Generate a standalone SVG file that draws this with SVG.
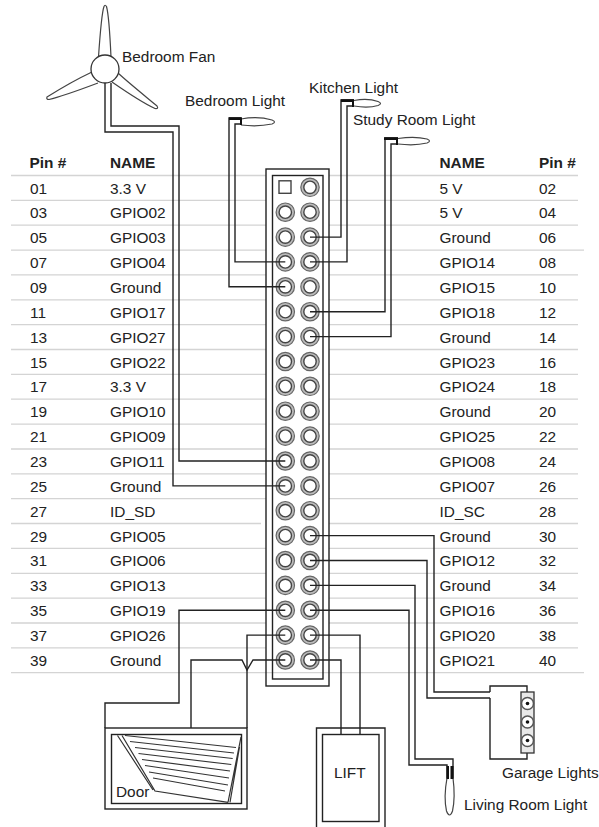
<svg xmlns="http://www.w3.org/2000/svg" xmlns:xlink="http://www.w3.org/1999/xlink" width="599" height="827" viewBox="0 0 599 827">
<style>
text{font-family:"Liberation Sans",Arial,sans-serif;font-size:15.4px;fill:#222}
.h{font-weight:bold}
.rule{fill:none;stroke:#d4d4d4;stroke-width:1.3}
.w{fill:none;stroke:#222;stroke-width:1.4}
.t{fill:#fff;stroke:#444;stroke-width:1.2}
.h2{fill:none;stroke:#333;stroke-width:1.2}
.k{fill:#111;stroke:none}
</style>
<defs>
<g id="pin">
<circle r="9.2" fill="#bbb" stroke="#666" stroke-width="1.2"/>
<circle r="6.2" fill="#fff" stroke="#444" stroke-width="1.4"/>
</g>
</defs>
<rect width="599" height="827" fill="#fff"/>
<g id="table-rules">
<path class="rule" d="M11 175.5H266M329 175.5H578M11 200.4H266M329 200.4H578M11 225.2H266M329 225.2H578M11 250.1H266M329 250.1H584M11 274.9H266M329 274.9H578M11 299.8H266M329 299.8H578M11 324.7H266M329 324.7H578M11 349.5H266M329 349.5H578M11 374.4H266M329 374.4H578M11 399.2H266M329 399.2H578M11 424.1H266M329 424.1H578M11 449H266M329 449H578M11 473.8H266M329 473.8H578M11 498.7H266M329 498.7H578M11 523.5H261M329 523.5H578M11 548.4H266M329 548.4H578M11 573.3H266M329 573.3H578M11 598.1H266M329 598.1H578M11 623H266M329 623H578M11 647.8H266M329 647.8H578M11 672.7H584"/>
</g>
<g id="table-left">
<text class="h" x="29.5" y="168.3">Pin #</text><text class="h" x="110" y="168.3">NAME</text>
<text x="30" y="193.5">01</text><text x="110" y="193.5">3.3 V</text>
<text x="30" y="218.4">03</text><text x="110" y="218.4">GPIO02</text>
<text x="30" y="243.2">05</text><text x="110" y="243.2">GPIO03</text>
<text x="30" y="268.1">07</text><text x="110" y="268.1">GPIO04</text>
<text x="30" y="292.9">09</text><text x="110" y="292.9">Ground</text>
<text x="30" y="317.8">11</text><text x="110" y="317.8">GPIO17</text>
<text x="30" y="342.7">13</text><text x="110" y="342.7">GPIO27</text>
<text x="30" y="367.5">15</text><text x="110" y="367.5">GPIO22</text>
<text x="30" y="392.4">17</text><text x="110" y="392.4">3.3 V</text>
<text x="30" y="417.2">19</text><text x="110" y="417.2">GPIO10</text>
<text x="30" y="442.1">21</text><text x="110" y="442.1">GPIO09</text>
<text x="30" y="467">23</text><text x="110" y="467">GPIO11</text>
<text x="30" y="491.8">25</text><text x="110" y="491.8">Ground</text>
<text x="30" y="516.7">27</text><text x="110" y="516.7">ID_SD</text>
<text x="30" y="541.5">29</text><text x="110" y="541.5">GPIO05</text>
<text x="30" y="566.4">31</text><text x="110" y="566.4">GPIO06</text>
<text x="30" y="591.3">33</text><text x="110" y="591.3">GPIO13</text>
<text x="30" y="616.1">35</text><text x="110" y="616.1">GPIO19</text>
<text x="30" y="641">37</text><text x="110" y="641">GPIO26</text>
<text x="30" y="665.8">39</text><text x="110" y="665.8">Ground</text>
</g>
<g id="table-right">
<text class="h" x="439.5" y="168.3">NAME</text><text class="h" x="539" y="168.3">Pin #</text>
<text x="439.5" y="193.5">5 V</text><text x="539" y="193.5">02</text>
<text x="439.5" y="218.4">5 V</text><text x="539" y="218.4">04</text>
<text x="439.5" y="243.2">Ground</text><text x="539" y="243.2">06</text>
<text x="439.5" y="268.1">GPIO14</text><text x="539" y="268.1">08</text>
<text x="439.5" y="292.9">GPIO15</text><text x="539" y="292.9">10</text>
<text x="439.5" y="317.8">GPIO18</text><text x="539" y="317.8">12</text>
<text x="439.5" y="342.7">Ground</text><text x="539" y="342.7">14</text>
<text x="439.5" y="367.5">GPIO23</text><text x="539" y="367.5">16</text>
<text x="439.5" y="392.4">GPIO24</text><text x="539" y="392.4">18</text>
<text x="439.5" y="417.2">Ground</text><text x="539" y="417.2">20</text>
<text x="439.5" y="442.1">GPIO25</text><text x="539" y="442.1">22</text>
<text x="439.5" y="467">GPIO08</text><text x="539" y="467">24</text>
<text x="439.5" y="491.8">GPIO07</text><text x="539" y="491.8">26</text>
<text x="439.5" y="516.7">ID_SC</text><text x="539" y="516.7">28</text>
<text x="439.5" y="541.5">Ground</text><text x="539" y="541.5">30</text>
<text x="439.5" y="566.4">GPIO12</text><text x="539" y="566.4">32</text>
<text x="439.5" y="591.3">Ground</text><text x="539" y="591.3">34</text>
<text x="439.5" y="616.1">GPIO16</text><text x="539" y="616.1">36</text>
<text x="439.5" y="641">GPIO20</text><text x="539" y="641">38</text>
<text x="439.5" y="665.8">GPIO21</text><text x="539" y="665.8">40</text>
</g>
<g id="gpio-header">
<rect class="w" x="266" y="169" width="63" height="517"/>
<rect class="w" x="272.5" y="175.5" width="50.5" height="503.5"/>
<rect x="279" y="180.8" width="12" height="12.5" fill="#fff" stroke="#444" stroke-width="1.4"/>
<use href="#pin" x="310" y="187.3"/>
<use href="#pin" x="285.3" y="212.2"/><use href="#pin" x="310" y="212.2"/>
<use href="#pin" x="285.3" y="237.1"/><use href="#pin" x="310" y="237.1"/>
<use href="#pin" x="285.3" y="261.9"/><use href="#pin" x="310" y="261.9"/>
<use href="#pin" x="285.3" y="286.8"/><use href="#pin" x="310" y="286.8"/>
<use href="#pin" x="285.3" y="311.7"/><use href="#pin" x="310" y="311.7"/>
<use href="#pin" x="285.3" y="336.6"/><use href="#pin" x="310" y="336.6"/>
<use href="#pin" x="285.3" y="361.5"/><use href="#pin" x="310" y="361.5"/>
<use href="#pin" x="285.3" y="386.3"/><use href="#pin" x="310" y="386.3"/>
<use href="#pin" x="285.3" y="411.2"/><use href="#pin" x="310" y="411.2"/>
<use href="#pin" x="285.3" y="436.1"/><use href="#pin" x="310" y="436.1"/>
<use href="#pin" x="285.3" y="461"/><use href="#pin" x="310" y="461"/>
<use href="#pin" x="285.3" y="485.9"/><use href="#pin" x="310" y="485.9"/>
<use href="#pin" x="285.3" y="510.7"/><use href="#pin" x="310" y="510.7"/>
<use href="#pin" x="285.3" y="535.6"/><use href="#pin" x="310" y="535.6"/>
<use href="#pin" x="285.3" y="560.5"/><use href="#pin" x="310" y="560.5"/>
<use href="#pin" x="285.3" y="585.4"/><use href="#pin" x="310" y="585.4"/>
<use href="#pin" x="285.3" y="610.3"/><use href="#pin" x="310" y="610.3"/>
<use href="#pin" x="285.3" y="635.1"/><use href="#pin" x="310" y="635.1"/>
<use href="#pin" x="285.3" y="660"/><use href="#pin" x="310" y="660"/>
</g>
<g id="connectors">
<path class="w" d="M105 83V132H173V485.9H285.3"/>
<path class="w" d="M111 83V126H179V461H285.3"/>
<path class="w" d="M241 118H229V286.8H285.3"/>
<path class="w" d="M241 124H235V261.9H285.3"/>
<path class="w" d="M354 100H341V237.1H310"/>
<path class="w" d="M354 106H347V261.9H310"/>
<path class="w" d="M398 138H385V311.7H310"/>
<path class="w" d="M398 144H391V336.6H310"/>
<path class="w" d="M310 535.6H434V692H490"/>
<path class="w" d="M310 560.5H427V698H490"/>
<path class="w" d="M310 585.4H415V759H453V778"/>
<path class="w" d="M310 610.3H409V765H447V778"/>
<path class="w" d="M310 635.1H360V734.5"/>
<path class="w" d="M310 660H341V734.5"/>
<path class="w" d="M285.3 610.3H179V703H105V728"/>
<path class="w" d="M285.3 635.1H247V728"/>
<path class="w" d="M285.3 660H253L247 670 242 660H191V728"/>
</g>
<g id="bedroom-fan">
<path class="t" d="M98.5 57C100 35 102 12 104 6.5Q105 4 106.500 6.500C108 12 110 35 111 57"/>
<path class="t" d="M92 72C75 80 55 92 47 97Q46 99.500 49 99.500C60 97 82 89 98 83"/>
<path class="t" d="M118 73C130 84 150 100 157 106Q159 109 155 108.500C145 104 125 91 112 82"/>
<circle cx="105" cy="69" r="14" fill="#fff" stroke="#333" stroke-width="1.3"/>
<text x="122" y="62">Bedroom Fan</text>
</g>
<g id="bedroom-light">
<path class="t" d="M241 119Q258 116 272 120Q277 122 272 124Q258 127 241 125"/>
<path class="k" d="M229 117.300H242V125H240V120H229Z"/>
<text x="185" y="106">Bedroom Light</text>
</g>
<g id="kitchen-light">
<path class="t" d="M354 100.500Q368 98 378 101.500Q383 103.500 378 105.500Q368 108.500 354 106"/>
<path class="k" d="M341 99.300H354V107H352V102H341Z"/>
<text x="309" y="93">Kitchen Light</text>
</g>
<g id="study-room-light">
<path class="t" d="M398 138.500Q415 136 427 139Q432 141 427 143Q415 146 398 144"/>
<path class="k" d="M384 137.300H398V145H396V140H384Z"/>
<text x="353" y="125">Study Room Light</text>
</g>
<g id="garage-lights">
<path class="w" d="M490 692V686H527V692M490 698V759H527V753"/>
<rect x="521" y="692" width="13" height="61" fill="#e8e8e8" stroke="#333" stroke-width="1.300"/>
<circle cx="527.500" cy="703.500" r="6" fill="#fff" stroke="#555" stroke-width="1.500"/><circle class="k" cx="527.500" cy="703.500" r="1.800"/>
<circle cx="527.500" cy="722" r="6" fill="#fff" stroke="#555" stroke-width="1.500"/><circle class="k" cx="527.500" cy="722" r="1.800"/>
<circle cx="527.500" cy="740.500" r="6" fill="#fff" stroke="#555" stroke-width="1.500"/><circle class="k" cx="527.500" cy="740.500" r="1.800"/>
<text x="502" y="778">Garage Lights</text>
</g>
<g id="living-room-light">
<path class="t" d="M447 778Q443.500 797 446.500 811Q449.500 819 452.500 811Q455.500 797 453 778"/>
<rect class="k" x="446.500" y="766" width="7" height="13"/>
<rect x="449" y="766" width="1.500" height="13" fill="#fff"/>
<text x="464" y="810">Living Room Light</text>
</g>
<g id="door">
<rect class="w" x="105" y="728" width="142" height="81"/>
<rect class="w" x="111.500" y="734.500" width="130" height="69"/>
<path class="h2" d="M117.500 735.500L153 790M122 735.500L155 791L228 802.300M241 737L228 802.300M239.500 747L230 802.300"/>
<path class="h2" d="M125 735.500L236 747.500M130 741.500L234 753M135 747.500L232.700 758.500M138.500 753.500L231.300 764.500M142 759.500L230 771M145 765.500L229 778M149 772L228 785M153 778L225 791"/>
<text x="116" y="797">Door</text>
</g>
<g id="lift">
<path class="w" d="M316.500 827V728H385V827"/>
<rect class="w" x="322.500" y="734.500" width="56.500" height="87"/>
<text x="334" y="778">LIFT</text>
</g>
</svg>
